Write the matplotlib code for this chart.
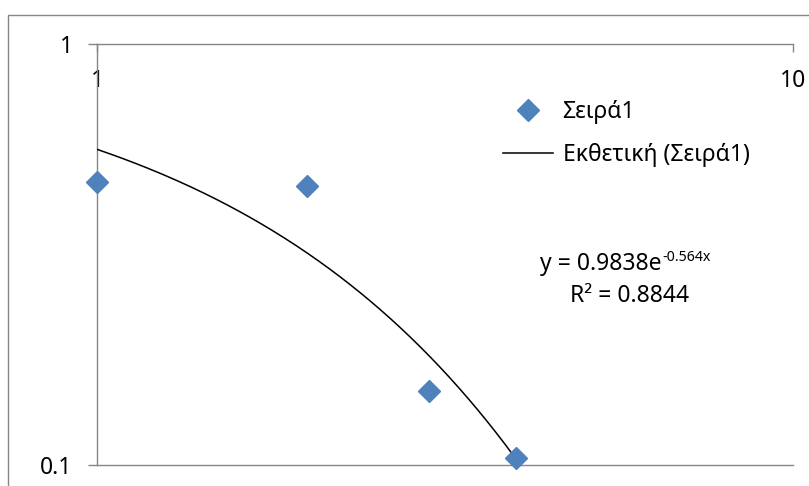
import numpy as np
import matplotlib
matplotlib.use('Agg')
import matplotlib.pyplot as plt
from matplotlib.patches import Rectangle
from matplotlib.ticker import FixedLocator, NullLocator

plt.rcParams['font.family'] = ['Noto Sans', 'DejaVu Sans']

# data
x_vals = [1, 2, 3, 4]
y_vals = [0.47, 0.46, 0.15, 0.104]
series_name = 'Σειρά1'
trend_name = 'Εκθετική (Σειρά1)'
eq_main = 'y = 0.9838e'
eq_sup = '-0.564x'
r2_text = 'R² = 0.8844'
x_ticks = [1, 10]
x_ticklabels = ['1', '10']
y_ticks = [0.1, 1]
y_ticklabels = ['0.1', '1']

W, H = 809, 486
GRAY = '#868686'
BLUE = '#4F81BD'
FS = 16.5

fig = plt.figure(figsize=(W / 100, H / 100), dpi=100)
fig.patch.set_facecolor('white')

# outer chart frame (cut by the image edges)
fig.patches.append(Rectangle((8 / W, -0.1), 1.2, (H - 15) / H + 0.1,
                             transform=fig.transFigure, fill=False,
                             edgecolor=GRAY, linewidth=1.0))

left, right, top, bottom = 97, 793, 44, 465
ax = fig.add_axes([left / W, (H - bottom) / H, (right - left) / W, (bottom - top) / H])
ax.set_xscale('log')
ax.set_yscale('log')
ax.set_xlim(1, 10)
ax.set_ylim(0.1, 1)

# exponential trendline fitted on the data
b, ln_a = np.polyfit(x_vals, np.log(y_vals), 1)
xt = np.linspace(min(x_vals), max(x_vals), 200)
yt = np.exp(ln_a) * np.exp(b * xt)
ax.plot(xt, yt, color='black', linewidth=1.1, label=trend_name, zorder=3)

ax.plot(x_vals, y_vals, linestyle='none', marker='D', markersize=11.5,
        color=BLUE, label=series_name, zorder=4, clip_on=False)

ax.spines['right'].set_visible(False)
for side in ['left', 'top', 'bottom']:
    ax.spines[side].set_color(GRAY)
    ax.spines[side].set_linewidth(1.0)

ax.xaxis.set_ticks_position('top')
ax.xaxis.set_major_locator(FixedLocator(x_ticks))
ax.xaxis.set_minor_locator(NullLocator())
ax.set_xticklabels(x_ticklabels)
ax.tick_params(axis='x', which='major', direction='in', length=6, width=1.0,
               color=GRAY, labelsize=FS, pad=-35)

ax.yaxis.set_major_locator(FixedLocator(y_ticks))
ax.yaxis.set_minor_locator(NullLocator())
ax.set_yticklabels(y_ticklabels)
ax.tick_params(axis='y', which='major', direction='out', length=6.5, width=1.0,
               color=GRAY, labelsize=FS, pad=11)

handles, labels = ax.get_legend_handles_labels()
leg = ax.legend(handles[::-1], labels[::-1], loc='upper left',
                bbox_to_anchor=(503 / W, (H - 100) / H), bbox_transform=fig.transFigure,
                frameon=False, fontsize=FS, handlelength=2.2, handletextpad=0.4,
                labelspacing=0.85, borderpad=0, borderaxespad=0)

# trendline equation, superscript as a smaller text next to the main one
t_main = fig.text(662 / W, (H - 264) / H, eq_main, ha='right', va='center', fontsize=FS)
ax.annotate(eq_sup, xy=(1, 1), xycoords=t_main, xytext=(0.5, 1.5),
            textcoords='offset points', ha='left', va='top', fontsize=FS * 0.62)
fig.text(630 / W, (H - 296) / H, r2_text, ha='center', va='center', fontsize=FS)

fig.savefig('out.png', dpi=100)
